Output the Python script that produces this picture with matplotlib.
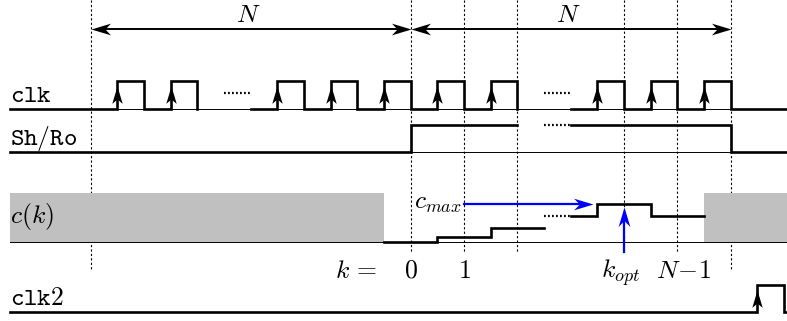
import matplotlib
matplotlib.use("Agg")
import matplotlib.pyplot as plt
from matplotlib.path import Path

plt.rcParams['mathtext.fontset'] = 'cm'

# ---- timing data (time in clock periods, t = 0 at start of the window) ----
clk_falls = [-5, -4, -2, -1, 0, 1, 2, 4, 5, 6]      # clk is high on (k - 0.5, k)
clk_segments = [(-7.51, -4), (-3, 2), (3, 7.06)]     # drawn stretches of clk
clk_dots = [(-3.5, -3), (2.5, 3)]                    # elided periods

shro_rise, shro_fall = 0, 6
shro_cut, shro_dots = 2, (2.5, 3)

c_k = [0, 1, 2, 3, 4, 5]
c_vals = [0, 5, 14, 26, 38, 26]
c_cut, c_dots = 2.5, (2.5, 3.0)
k_opt = 4

clk2_rise, clk2_fall = 6.5, 7.0

window_marks = [-6, 0, 1, 2, 4, 5, 6]
k_labels = [(0, r'$0$'), (1, r'$1$'), (4 - 0.07, r'$k_{opt}$'), (5.12, r'$N\!-\!1$')]

# ---- layout ----
T0_PX, PERIOD_PX, W_PX, H_PX = 410.7, 53.33, 787, 321
x_left = -T0_PX / PERIOD_PX
x_right = (W_PX - T0_PX) / PERIOD_PX
x_start = -7.51

rows = {'clk': (109.0, 81.3), 'shro': (152.0, 125.0),
        'c': (242.3, None), 'clk2': (311.7, 285.0)}

fig = plt.figure(figsize=(W_PX / 100, H_PX / 100), dpi=100)
ax = fig.add_axes([0, 0, 1, 1])
ax.set_xlim(x_left, x_right)
ax.set_ylim(H_PX, 0)
ax.axis('off')

THICK, THIN = 1.9, 0.7
MATH = 18.5
MONO = 18.5

CODES = [Path.MOVETO, Path.LINETO, Path.LINETO, Path.LINETO, Path.CLOSEPOLY]


def side_head(direction, half=0.3, notch=0.72):
    # stealth-style arrow head with its tip at the origin
    s = 1 if direction == 'right' else -1
    pts = [(0, 0), (-s, half), (-s * notch, 0), (-s, -half), (0, 0)]
    return Path(pts, CODES)


def up_head(half=0.3, notch=0.75):
    pts = [(0, 0), (-half, -1), (0, -notch), (half, -1), (0, 0)]
    return Path(pts, CODES)


def mono(s):
    return r'$\mathtt{' + s + '}$'


# dotted window markers
for t in window_marks:
    bottom = 269 if t in (-6, 6) else 252
    ax.plot([t, t], [0, bottom], color='black', lw=0.8,
            linestyle=(0, (2, 2)), zorder=1)

# N-period arrows
y_arrow = 29.3
for a, b in [(-6, 0), (0, 6)]:
    ax.plot([a + 0.15, b - 0.15], [y_arrow, y_arrow], color='black', lw=1.4, zorder=3)
    ax.plot([b], [y_arrow], marker=side_head('right'), markersize=28,
            color='black', markeredgewidth=0, zorder=4)
    ax.plot([a], [y_arrow], marker=side_head('left'), markersize=28,
            color='black', markeredgewidth=0, zorder=4)
    ax.text((a + b) / 2 - 0.05, 15, r'$N$', fontsize=MATH, ha='center', va='center')

# clk
low, high = rows['clk']
ax.plot([x_start, x_right], [low, low], color='black', lw=THIN, zorder=2)
for a, b in clk_segments:
    xs, ys = [a], [low]
    for k in clk_falls:
        if a <= k - 0.5 and k <= b:
            xs += [k - 0.5, k - 0.5, k, k]
            ys += [low, high, high, low]
    xs.append(b)
    ys.append(low)
    ax.plot(xs, ys, color='black', lw=THICK, solid_joinstyle='miter', zorder=3)
for k in clk_falls:
    ax.plot([k - 0.5], [high + 5.0], marker=up_head(), markersize=25,
            color='black', markeredgewidth=0, zorder=4)
for a, b in clk_dots:
    ax.plot([a, b], [(low + high) / 2 - 2] * 2, color='black', lw=1.6,
            linestyle=(0, (0.8, 1.0)), zorder=3)
ax.text(x_start, 102, mono('clk'), va='baseline', ha='left', fontsize=MONO)

# Sh/Ro
low, high = rows['shro']
ax.plot([x_start, x_right], [low, low], color='black', lw=THIN, zorder=2)
ax.plot([x_start, shro_rise, shro_rise, shro_cut],
        [low, low, high, high], color='black', lw=THICK,
        solid_joinstyle='miter', zorder=3)
ax.plot([shro_dots[1], shro_fall, shro_fall, x_right],
        [high, high, low, low], color='black', lw=THICK,
        solid_joinstyle='miter', zorder=3)
ax.plot(list(shro_dots), [high, high], color='black', lw=1.6,
        linestyle=(0, (0.8, 1.0)), zorder=3)
ax.text(x_start, 145, mono('Sh/Ro'), va='baseline', ha='left', fontsize=MONO)

# c(k)
base, _ = rows['c']
gray_top = 193.3
ax.fill_between([x_start, c_k[0] - 0.5], [base] * 2, [gray_top] * 2,
                color='#c0c0c0', lw=0, zorder=1.5)
ax.fill_between([c_k[-1] + 0.5, x_right], [base] * 2, [gray_top] * 2,
                color='#c0c0c0', lw=0, zorder=1.5)
ax.plot([x_start, x_right], [base, base], color='black', lw=THIN, zorder=2)


def c_trace(ks, start, stop):
    xs, ys = [], []
    for k in ks:
        lo = max(k - 0.5, start)
        hi = min(k + 0.5, stop)
        y = base - c_vals[k]
        xs += [lo, hi]
        ys += [y, y]
    ax.plot(xs, ys, color='black', lw=THICK, solid_joinstyle='miter', zorder=3)


c_trace([0, 1, 2], -0.5, c_cut)
c_trace([3, 4, 5], c_dots[1], 5.5)
ax.plot(list(c_dots), [base - c_vals[3]] * 2, color='black', lw=1.6,
        linestyle=(0, (0.8, 1.0)), zorder=3)
ax.text(x_start, 217, r'$c(k)$', fontsize=MATH, ha='left', va='center')

# c_max / k_opt pointers
c_max = c_vals[k_opt]
y_cmax = base - c_max
ax.plot([1, k_opt - 0.75], [y_cmax, y_cmax], color='blue', lw=1.6, zorder=4)
ax.plot([k_opt - 0.58], [y_cmax], marker=side_head('right', 0.3, 0.7),
        markersize=28, color='blue', markeredgewidth=0, zorder=5)
ax.text(0.06, y_cmax + 4, r'$c_{max}$', fontsize=MATH, ha='left', va='baseline')
ax.plot([k_opt, k_opt], [251.7, y_cmax + 14], color='blue', lw=1.6, zorder=4)
ax.plot([k_opt], [y_cmax + 2.5], marker=up_head(0.3, 0.7), markersize=28,
        color='blue', markeredgewidth=0, zorder=5)

# index labels
ax.text(-0.62, 278, r'$k\,=$', fontsize=MATH, ha='right', va='baseline')
for t, lab in k_labels:
    ax.text(t, 278, lab, fontsize=MATH, ha='center', va='baseline')

# clk2
low, high = rows['clk2']
ax.plot([x_start, clk2_rise, clk2_rise, clk2_fall, clk2_fall, x_right],
        [low, low, high, high, low, low], color='black', lw=THICK,
        solid_joinstyle='miter', zorder=3)
ax.plot([clk2_rise], [high + 4.5], marker=up_head(), markersize=25,
        color='black', markeredgewidth=0, zorder=4)
ax.text(x_start, 305, mono('clk2'), va='baseline', ha='left', fontsize=MONO)

fig.savefig('out.png', dpi=100)
